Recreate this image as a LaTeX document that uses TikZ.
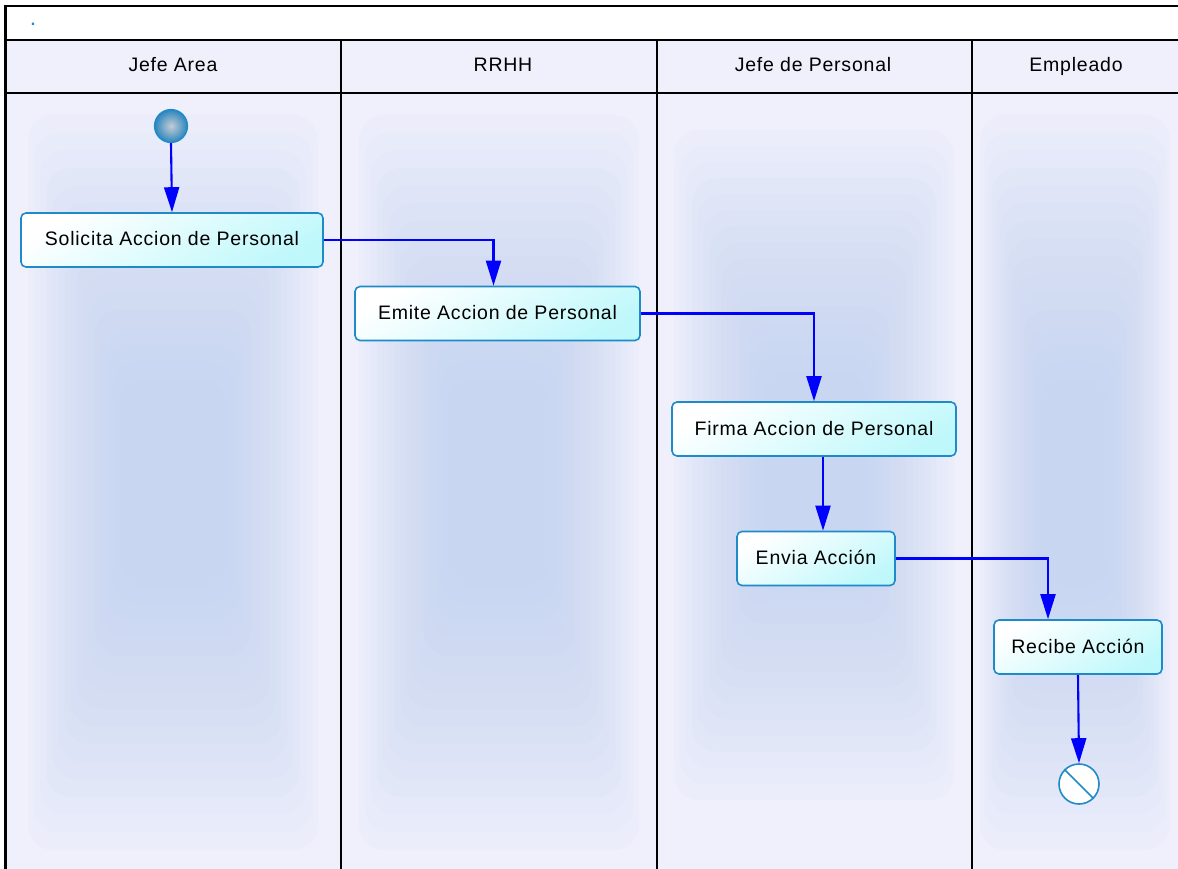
\documentclass[tikz,border=0pt]{standalone}
\usepackage{fontspec}
\setmainfont{Liberation Sans}[LetterSpace=4]
\usetikzlibrary{arrows.meta,calc}
\definecolor{lanebg}{HTML}{EFF0FC}
\definecolor{hazec}{HTML}{B8CCF2}
\definecolor{nodeborder}{HTML}{1E8BC8}
\definecolor{nodecyan}{HTML}{BFF8FB}
\definecolor{flow}{HTML}{0000FF}
\definecolor{ballin}{HTML}{C5CDD5}
\definecolor{ballout}{HTML}{2A86BE}
\newcommand\lanehaze[4]{%
  \foreach \k in {0,...,15}{
    \fill[hazec, opacity=0.06, rounded corners=25pt]
      ({#1-#4+\k*#4*0.042},{#2+\k*(#3-#2)*0.024}) rectangle
      ({#1+#4-\k*#4*0.042},{#3-\k*(#3-#2)*0.024});
  }}
\begin{document}
\begin{tikzpicture}[x=1pt,y=-1pt,
  action/.style={draw=nodeborder, line width=1.6pt, rounded corners=5pt,
    top color=white, bottom color=nodecyan, shading angle=30,
    minimum height=54pt, inner sep=0pt, text height=16pt, text depth=4pt,
    font=\fontsize{19.5}{23}\selectfont},
  lanehead/.style={font=\fontsize{19.5}{23}\selectfont, inner sep=0pt,
    text height=16pt, text depth=4pt},
  flowline/.style={draw=flow, line width=2.1pt, -{Triangle[length=25pt,width=15pt]}},
  sep/.style={line width=2pt, black}]
\useasboundingbox (0,0) rectangle (1178,869);
\fill[white] (0,0) rectangle (1178,869);
\fill[lanebg] (5,40) rectangle (1182,869);
\lanehaze{173}{115}{850}{145}
\lanehaze{499}{115}{850}{140}
\lanehaze{814}{130}{800}{140}
\lanehaze{1075}{115}{850}{95}
\fill[lanebg] (5,40) rectangle (1182,93);
% frame and lanes
\draw[sep] (1182,6) -- (5,6);
\draw[black, line width=3pt] (5,5) -- (5,870);
\draw[sep] (5,40) -- (1182,40);
\draw[sep] (5,93) -- (1182,93);
\draw[sep] (341,40) -- (341,870);
\draw[sep] (657,40) -- (657,870);
\draw[sep] (972,40) -- (972,870);
% title and headers
\node[text=nodeborder, font=\bfseries\fontsize{16}{18}\selectfont, inner sep=0pt] (title) at (33,24) {.};
\node[lanehead] (h1) at (173,66) {Jefe Area};
\node[lanehead] (h2) at (503,66) {RRHH};
\node[lanehead] (h3) at (813,66) {Jefe de Personal};
\node[lanehead] (h4) at (1076,66) {Empleado};
% nodes
\node[circle, draw=nodeborder, line width=1.2pt, inner color=ballin, outer color=ballout,
  minimum size=33pt, inner sep=0pt] (start) at (171,126) {};
\node[action, minimum width=302pt] (sol) at (172,240) {Solicita Accion de Personal};
\node[action, minimum width=285pt] (emi) at (497.5,313.5) {Emite Accion de Personal};
\node[action, minimum width=284pt] (fir) at (814,429) {Firma Accion de Personal};
\node[action, minimum width=158pt] (env) at (816,558.5) {Envia Acción};
\node[action, minimum width=168pt] (rec) at (1078,647) {Recibe Acción};
\node[circle, draw=nodeborder, line width=1.6pt, fill=white,
  minimum size=40pt, inner sep=0pt] (end) at (1079,784) {};
\draw[nodeborder, line width=1.6pt] (end.north west) -- (end.south east);
% connectors
\draw[flowline] (start.south) -- (sol.north);
\draw[flowline] (sol.east) -| ([xshift=-4pt]emi.north);
\draw[flowline] (emi.east) -| (fir.north);
\draw[flowline] ([xshift=9pt]fir.south) -- ([xshift=7pt]env.north);
\draw[flowline] (env.east) -| ([xshift=-30pt]rec.north);
\draw[flowline] (rec.south) -- (end.north);
\end{tikzpicture}
\end{document}
